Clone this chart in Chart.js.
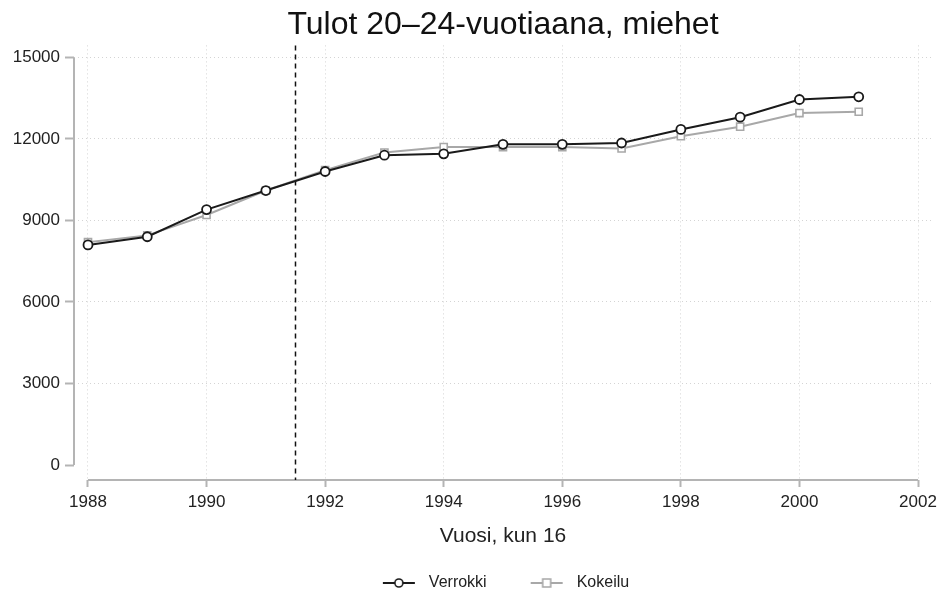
<!DOCTYPE html>
<html>
<head>
<meta charset="utf-8">
<script src="https://cdn.jsdelivr.net/npm/chart.js@4/dist/chart.umd.min.js"></script>
<style>
  html, body { margin: 0; padding: 0; background: #fff; }
  #wrap { width: 943px; height: 597px; }
</style>
</head>
<body>
<div id="wrap"><canvas id="myChart"></canvas></div>
<script>
// data
var years = [1988, 1989, 1990, 1991, 1992, 1993, 1994, 1995, 1996, 1997, 1998, 1999, 2000, 2001];
var verrokki = [8100, 8400, 9400, 10100, 10800, 11400, 11450, 11800, 11800, 11850, 12350, 12800, 13450, 13550];
var kokeilu = [8200, 8450, 9200, 10100, 10850, 11500, 11700, 11700, 11700, 11650, 12100, 12450, 12950, 13000];
var xTicks = [1988, 1990, 1992, 1994, 1996, 1998, 2000, 2002];
var yTicks = [0, 3000, 6000, 9000, 12000, 15000];
var reformYear = 1991.5;

var font = '"Liberation Sans", Arial, sans-serif';
var axisGray = '#b4b4b4';

// legend symbol: short line with the marker in the middle
function legendIcon(color, shape) {
  var c = document.createElement('canvas');
  c.width = 44; c.height = 12;
  var g = c.getContext('2d');
  g.strokeStyle = color;
  g.lineWidth = 2;
  g.beginPath(); g.moveTo(6, 6); g.lineTo(38, 6); g.stroke();
  g.fillStyle = '#fff';
  g.lineWidth = 1.6;
  g.beginPath();
  if (shape == 'circle') g.arc(22, 6, 4, 0, Math.PI * 2);
  else g.rect(18, 2, 8, 8);
  g.fill(); g.stroke();
  return c;
}

// Stata style axis lines + reform line
var extras = {
  id: 'extras',
  beforeDatasetsDraw: function(chart) {
    var ctx = chart.ctx, xs = chart.scales.x, ys = chart.scales.y, area = chart.chartArea;
    ctx.save();
    ctx.strokeStyle = axisGray;
    ctx.lineWidth = 2;
    ctx.beginPath();
    ctx.moveTo(area.left, ys.getPixelForValue(yTicks[yTicks.length - 1]));
    ctx.lineTo(area.left, ys.getPixelForValue(yTicks[0]));
    ctx.moveTo(xs.getPixelForValue(xTicks[0]), area.bottom);
    ctx.lineTo(xs.getPixelForValue(xTicks[xTicks.length - 1]), area.bottom);
    ctx.stroke();
    var px = xs.getPixelForValue(reformYear);
    ctx.strokeStyle = '#111';
    ctx.lineWidth = 1.5;
    ctx.setLineDash([5, 4]);
    ctx.beginPath();
    ctx.moveTo(px, area.top);
    ctx.lineTo(px, area.bottom);
    ctx.stroke();
    ctx.restore();
  }
};

const ctx = document.getElementById('myChart');

new Chart(ctx, {
  type: 'line',
  data: {
    datasets: [{
      label: 'Verrokki',
      data: years.map(function(y, i) { return {x: y, y: verrokki[i]}; }),
      borderColor: '#1a1a1a',
      backgroundColor: '#fff',
      borderWidth: 2,
      pointStyle: 'circle',
      pointRadius: 4.5,
      pointBorderWidth: 1.8,
      pointBackgroundColor: '#fff',
      pointBorderColor: '#1a1a1a',
      tension: 0
    }, {
      label: 'Kokeilu',
      data: years.map(function(y, i) { return {x: y, y: kokeilu[i]}; }),
      borderColor: '#a8a8a8',
      backgroundColor: '#fff',
      borderWidth: 2,
      pointStyle: 'rect',
      pointRadius: 5,
      pointBorderWidth: 1.6,
      pointBackgroundColor: '#fff',
      pointBorderColor: '#a8a8a8',
      tension: 0
    }]
  },
  options: {
    responsive: true,
    maintainAspectRatio: false,
    animation: false,
    layout: { padding: { left: 0, right: 11, top: 0, bottom: -4 } },
    plugins: {
      title: {
        display: true,
        text: 'Tulot 20–24-vuotiaana, miehet',
        fullSize: false,
        color: '#111',
        font: { family: font, size: 32, weight: 'normal' },
        padding: { top: 6, bottom: 1 }
      },
      legend: {
        position: 'bottom',
        fullSize: false,
        labels: {
          color: '#222',
          font: { family: font, size: 16 },
          usePointStyle: true,
          pointStyleWidth: 44,
          boxHeight: 12,
          padding: 38,
          generateLabels: function(chart) {
            return chart.data.datasets.map(function(ds, i) {
              return {
                text: ds.label,
                datasetIndex: i,
                pointStyle: legendIcon(ds.borderColor, i == 0 ? 'circle' : 'rect'),
                fontColor: '#222',
                lineWidth: 0,
                strokeStyle: 'transparent',
                fillStyle: 'transparent'
              };
            });
          }
        }
      },
      tooltip: { enabled: false }
    },
    scales: {
      x: {
        type: 'linear',
        min: 1987.764,
        max: 2002.236,
        afterBuildTicks: function(scale) { scale.ticks = xTicks.map(function(v) { return {value: v}; }); },
        afterFit: function(scale) { scale.height = 57; },
        border: { display: false, dash: [1, 3] },
        grid: { color: '#d4d4d4', tickColor: axisGray, tickWidth: 2, tickLength: 7, tickBorderDash: [] },
        ticks: {
          color: '#222',
          font: { family: font, size: 17 },
          padding: 5,
          maxRotation: 0,
          callback: function(v) { return String(v); }
        },
        title: {
          display: true,
          text: 'Vuosi, kun 16',
          color: '#222',
          font: { family: font, size: 21 },
          padding: { top: 2, bottom: -12 }
        }
      },
      y: {
        min: -551,
        max: 15441,
        afterBuildTicks: function(scale) { scale.ticks = yTicks.map(function(v) { return {value: v}; }); },
        afterFit: function(scale) { scale.width = 74; },
        border: { display: false, dash: [1, 3] },
        grid: {
          color: function(c) { return c.tick && c.tick.value == 0 ? 'rgba(0,0,0,0)' : '#d4d4d4'; },
          tickColor: axisGray, tickWidth: 2, tickLength: 9, tickBorderDash: []
        },
        ticks: {
          color: '#222',
          font: { family: font, size: 17 },
          padding: 5,
          callback: function(v) { return String(v); }
        }
      }
    }
  },
  plugins: [extras]
});
</script>
</body>
</html>
